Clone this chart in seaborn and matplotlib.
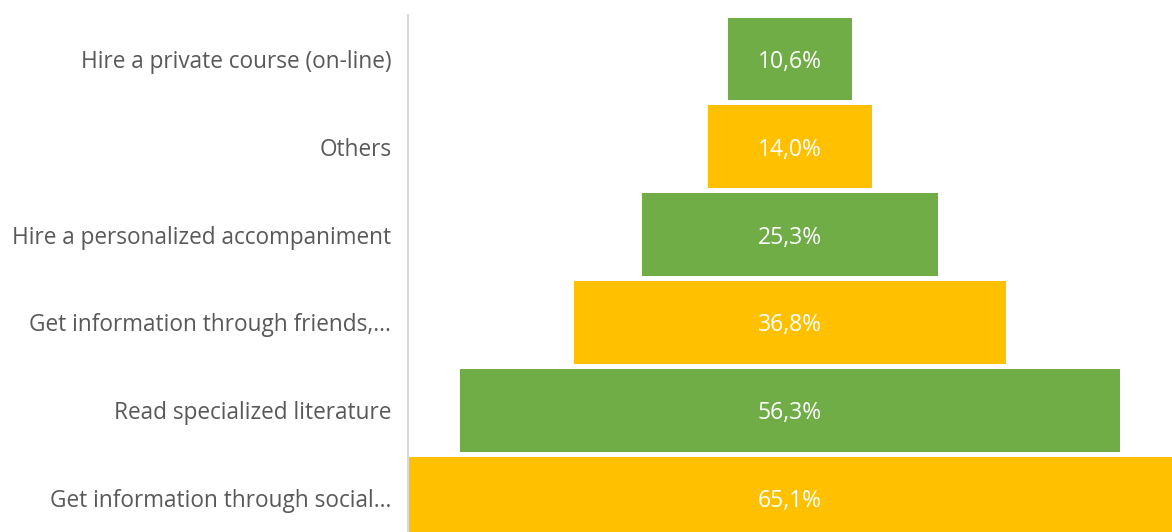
import matplotlib
matplotlib.use("Agg")
import matplotlib.pyplot as plt
import seaborn as sns
import pandas as pd

# Funnel stages, top to bottom
categories = [
    "Hire a private course (on-line)",
    "Others",
    "Hire a personalized accompaniment",
    "Get information through friends,...",
    "Read specialized literature",
    "Get information through social...",
]
values = [10.6, 14.0, 25.3, 36.8, 56.3, 65.1]
bar_colors = ["#70AD47", "#FFC000", "#70AD47", "#FFC000", "#70AD47", "#FFC000"]

df = pd.DataFrame({"stage": categories, "pct": values})

sns.set_theme(style="white")
plt.rcParams["font.family"] = ["Open Sans", "DejaVu Sans"]

fig = plt.figure(figsize=(11.72, 5.32), dpi=100)
ax = fig.add_axes([408 / 1172, 1 - 542 / 532, 1 - 408 / 1172, 527 / 532])

sns.barplot(data=df, x="pct", y="stage", hue="stage", palette=bar_colors,
            legend=False, width=0.94, ax=ax, orient="h", saturation=1)

vmax = max(values)
ax.set_xlim(0, vmax)
ax.set_ylim(len(categories) - 0.5, -0.5)

# center every bar on the widest one to form the funnel
for patch, v in zip(ax.patches, values):
    patch.set_x((vmax - v) / 2)
    patch.set_linewidth(0)
    ax.text(vmax / 2, patch.get_y() + patch.get_height() / 2,
            f"{v:.1f}%".replace(".", ","), ha="center", va="center_baseline",
            color="white", fontsize=16.5)

ax.set_xlabel("")
ax.set_ylabel("")
ax.set_xticks([])
ax.tick_params(axis="y", length=0, pad=12, labelsize=16.3, labelcolor="#595959")
for lbl in ax.get_yticklabels():
    lbl.set_va("center_baseline")
for side in ["top", "right", "bottom"]:
    ax.spines[side].set_visible(False)
ax.spines["left"].set_color("#D9D9D9")
ax.spines["left"].set_linewidth(1.5)

fig.savefig("out.png", dpi=100)
